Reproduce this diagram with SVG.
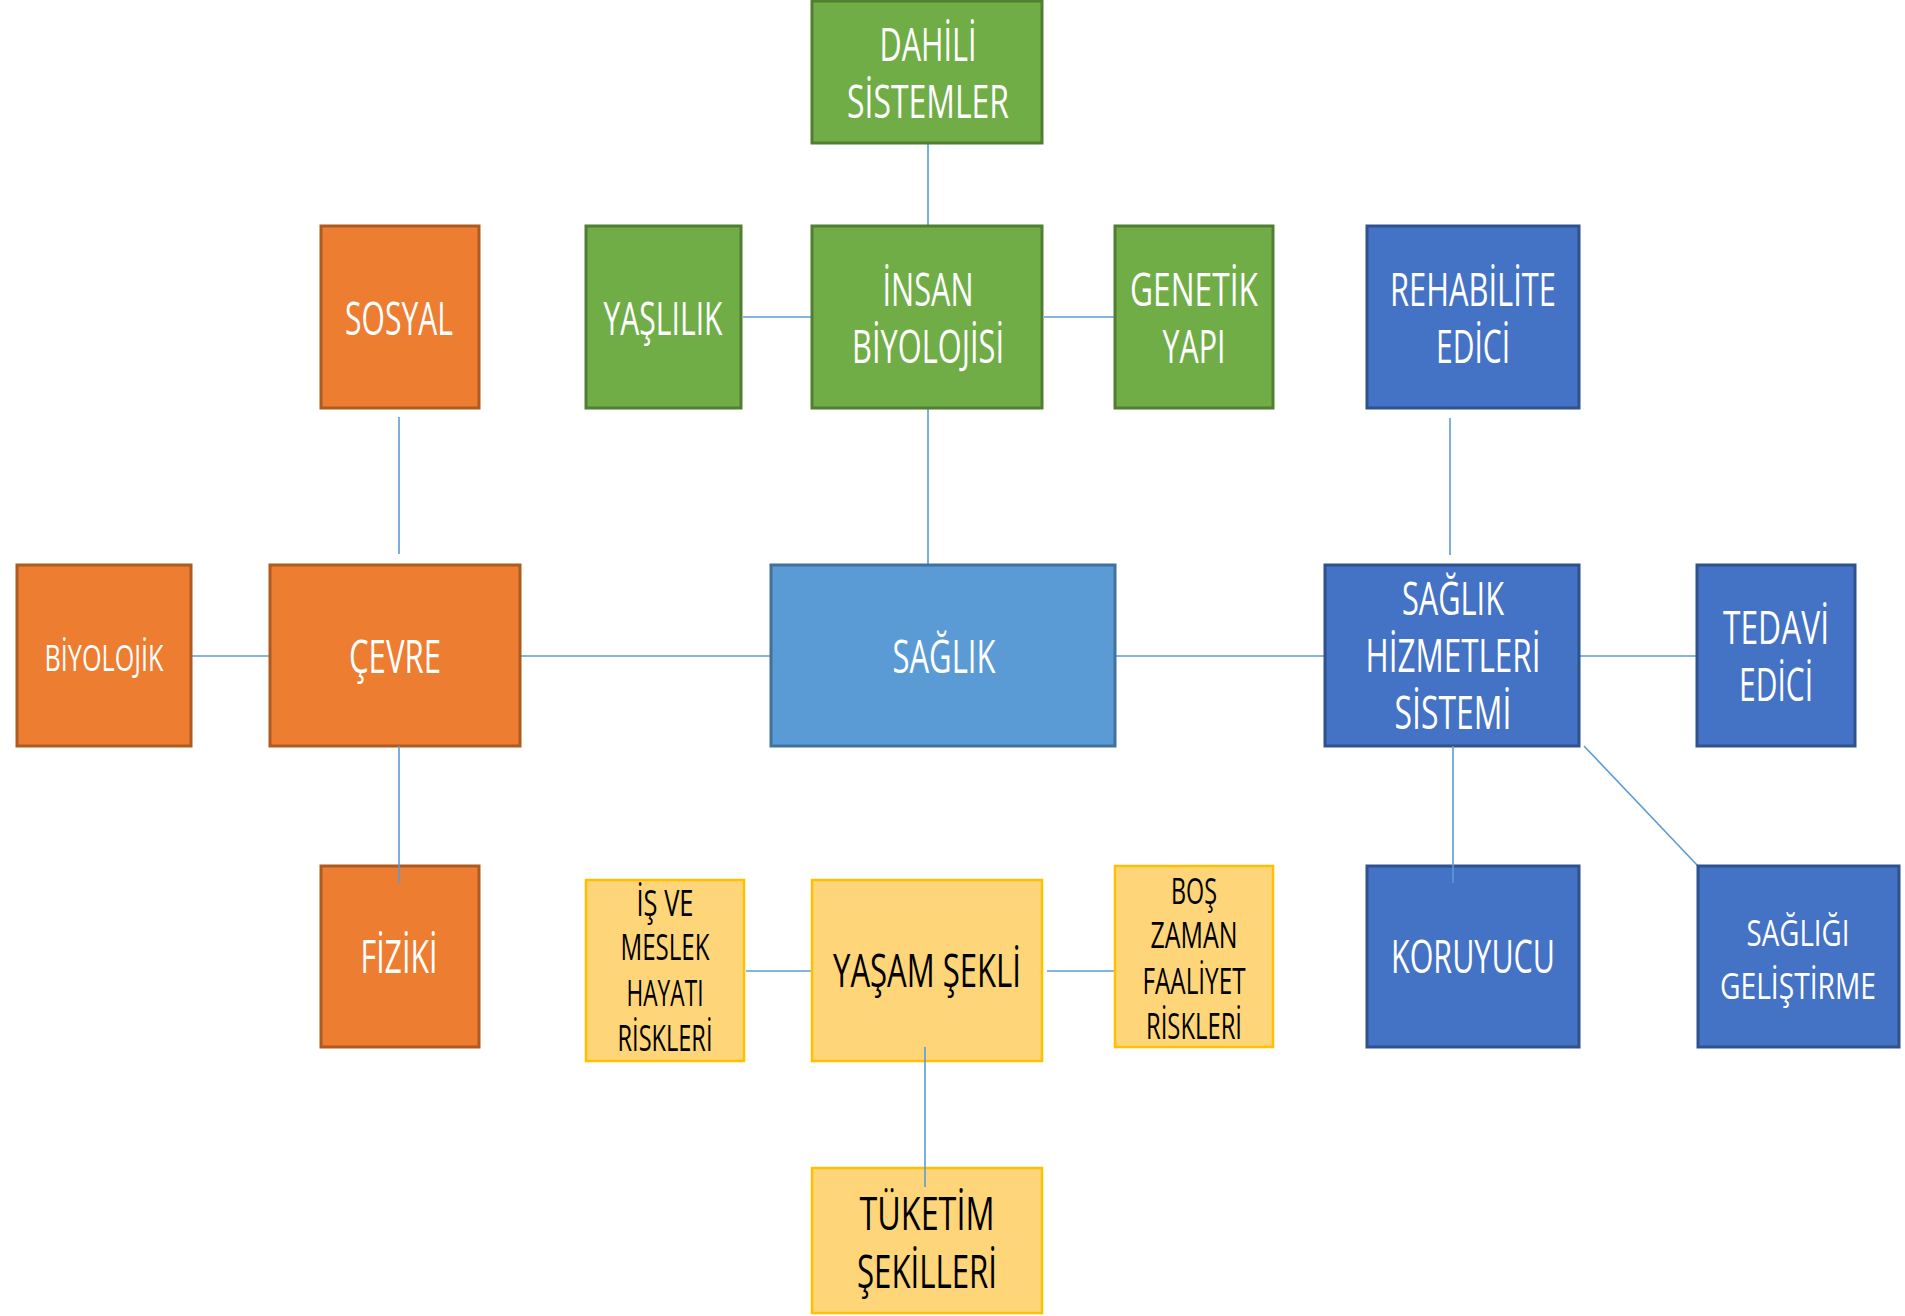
<svg xmlns="http://www.w3.org/2000/svg" width="1905" height="1316" viewBox="0 0 1905 1316">
<style>
.g{fill:#70AD47;stroke:#507E32;stroke-width:3}
.o{fill:#ED7D31;stroke:#AE5A21;stroke-width:3}
.lb{fill:#5B9BD5;stroke:#41719C;stroke-width:3}
.b{fill:#4472C4;stroke:#2F528F;stroke-width:3}
.y{fill:#FFD579;stroke:#FFC000;stroke-width:2.5}
text{font-family:"Open Sans","Noto Sans","Liberation Sans",sans-serif;text-anchor:middle;font-size:46px;fill:#FFFFFF}
.s{font-size:37px}
.k{fill:#000000}
.c line{stroke:#5B9BD5;stroke-width:1.6;fill:none}
</style>
<rect width="1905" height="1316" fill="#FFFFFF"/>
<g class="c" id="connectors">
<line x1="928" y1="143" x2="928" y2="226"/>
<line x1="928" y1="408" x2="928" y2="565"/>
<line x1="743" y1="317" x2="812" y2="317"/>
<line x1="1044" y1="317" x2="1115" y2="317"/>
<line x1="399" y1="417" x2="399" y2="554"/>
<line x1="191" y1="656" x2="270" y2="656"/>
<line x1="520" y1="656" x2="771" y2="656"/>
<line x1="1115" y1="656" x2="1325" y2="656"/>
<line x1="1579" y1="656" x2="1697" y2="656"/>
<line x1="1450" y1="418" x2="1450" y2="555"/>
<line x1="1584" y1="746" x2="1698" y2="866"/>
<line x1="746" y1="971" x2="812" y2="971"/>
<line x1="1047" y1="971" x2="1115" y2="971"/>
</g>
<g id="n-dahili"><rect class="g" x="812" y="1" width="230" height="142"/><text x="928" y="61" textLength="97" lengthAdjust="spacingAndGlyphs">DAHİLİ</text><text x="928" y="118" textLength="162" lengthAdjust="spacingAndGlyphs">SİSTEMLER</text></g>
<g id="n-insan"><rect class="g" x="812" y="226" width="230" height="182"/><text x="928" y="306" textLength="91" lengthAdjust="spacingAndGlyphs">İNSAN</text><text x="928" y="363" textLength="152" lengthAdjust="spacingAndGlyphs">BİYOLOJİSİ</text></g>
<g id="n-yaslilik"><rect class="g" x="586" y="226" width="155" height="182"/><text x="663" y="335" textLength="119" lengthAdjust="spacingAndGlyphs">YAŞLILIK</text></g>
<g id="n-genetik"><rect class="g" x="1115" y="226" width="158" height="182"/><text x="1194" y="306" textLength="128" lengthAdjust="spacingAndGlyphs">GENETİK</text><text x="1194" y="363" textLength="63" lengthAdjust="spacingAndGlyphs">YAPI</text></g>
<g id="n-sosyal"><rect class="o" x="321" y="226" width="158" height="182"/><text x="399" y="335" textLength="108" lengthAdjust="spacingAndGlyphs">SOSYAL</text></g>
<g id="n-rehab"><rect class="b" x="1367" y="226" width="212" height="182"/><text x="1473" y="306" textLength="166" lengthAdjust="spacingAndGlyphs">REHABİLİTE</text><text x="1473" y="363" textLength="74" lengthAdjust="spacingAndGlyphs">EDİCİ</text></g>
<g id="n-biyolojik"><rect class="o" x="17" y="565" width="174" height="181"/><text class="s" x="104" y="671" textLength="119" lengthAdjust="spacingAndGlyphs">BİYOLOJİK</text></g>
<g id="n-cevre"><rect class="o" x="270" y="565" width="250" height="181"/><text x="395" y="673" textLength="92" lengthAdjust="spacingAndGlyphs">ÇEVRE</text></g>
<g id="n-saglik"><rect class="lb" x="771" y="565" width="344" height="181"/><text x="944" y="673" textLength="103" lengthAdjust="spacingAndGlyphs">SAĞLIK</text></g>
<g id="n-shs"><rect class="b" x="1325" y="565" width="254" height="181"/><text x="1453" y="615" textLength="102" lengthAdjust="spacingAndGlyphs">SAĞLIK</text><text x="1453" y="672" textLength="175" lengthAdjust="spacingAndGlyphs">HİZMETLERİ</text><text x="1453" y="729" textLength="117" lengthAdjust="spacingAndGlyphs">SİSTEMİ</text></g>
<g id="n-tedavi"><rect class="b" x="1697" y="565" width="158" height="181"/><text x="1776" y="644" textLength="106" lengthAdjust="spacingAndGlyphs">TEDAVİ</text><text x="1776" y="701" textLength="74" lengthAdjust="spacingAndGlyphs">EDİCİ</text></g>
<g id="n-fiziki"><rect class="o" x="321" y="866" width="158" height="181"/><text x="399" y="973" textLength="77" lengthAdjust="spacingAndGlyphs">FİZİKİ</text></g>
<g id="n-is"><rect class="y" x="586" y="880" width="158" height="181"/><text class="s k" x="665" y="916" textLength="57" lengthAdjust="spacingAndGlyphs">İŞ VE</text><text class="s k" x="665" y="960" textLength="89" lengthAdjust="spacingAndGlyphs">MESLEK</text><text class="s k" x="665" y="1006" textLength="77" lengthAdjust="spacingAndGlyphs">HAYATI</text><text class="s k" x="665" y="1051" textLength="95" lengthAdjust="spacingAndGlyphs">RİSKLERİ</text></g>
<g id="n-yasam"><rect class="y" x="812" y="880" width="230" height="181"/><text class="k" x="927" y="987" textLength="188" lengthAdjust="spacingAndGlyphs">YAŞAM ŞEKLİ</text></g>
<g id="n-bos"><rect class="y" x="1115" y="866" width="158" height="181"/><text class="s k" x="1194" y="904" textLength="46" lengthAdjust="spacingAndGlyphs">BOŞ</text><text class="s k" x="1194" y="948" textLength="87" lengthAdjust="spacingAndGlyphs">ZAMAN</text><text class="s k" x="1194" y="994" textLength="103" lengthAdjust="spacingAndGlyphs">FAALİYET</text><text class="s k" x="1194" y="1039" textLength="96" lengthAdjust="spacingAndGlyphs">RİSKLERİ</text></g>
<g id="n-koruyucu"><rect class="b" x="1367" y="866" width="212" height="181"/><text x="1473" y="973" textLength="164" lengthAdjust="spacingAndGlyphs">KORUYUCU</text></g>
<g id="n-gelistirme"><rect class="b" x="1698" y="866" width="201" height="181"/><text class="s" x="1798" y="946" textLength="103" lengthAdjust="spacingAndGlyphs">SAĞLIĞI</text><text class="s" x="1798" y="999" textLength="156" lengthAdjust="spacingAndGlyphs">GELİŞTİRME</text></g>
<g id="n-tuketim"><rect class="y" x="812" y="1168" width="230" height="145"/><text class="k" x="927" y="1230" textLength="135" lengthAdjust="spacingAndGlyphs">TÜKETİM</text><text class="k" x="927" y="1288" textLength="140" lengthAdjust="spacingAndGlyphs">ŞEKİLLERİ</text></g>
<g class="c" id="connectors-over">
<line x1="399" y1="746" x2="399" y2="883"/>
<line x1="1453" y1="746" x2="1453" y2="883"/>
<line x1="925" y1="1047" x2="925" y2="1187"/>
</g>
</svg>
